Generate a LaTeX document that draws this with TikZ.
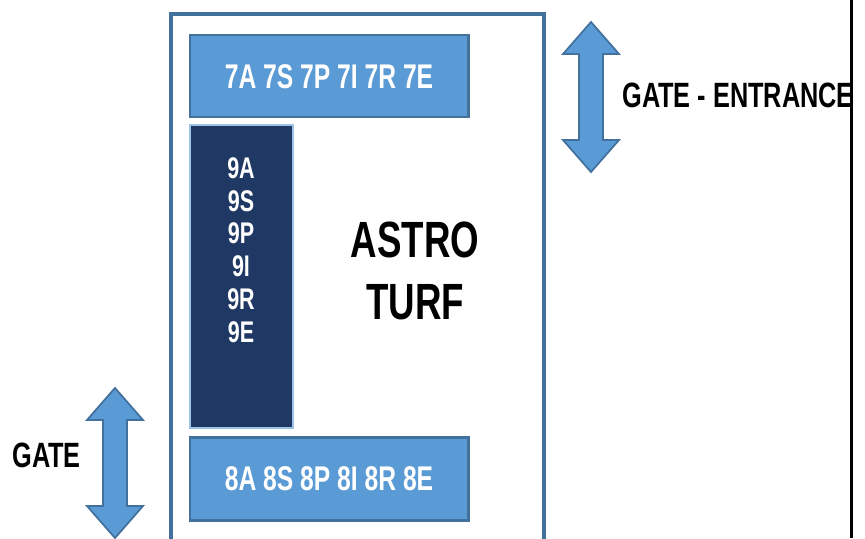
\documentclass[tikz,border=0pt]{standalone}
\usepackage{fontspec}
\setmainfont{Liberation Sans}[FakeStretch=0.72]
\definecolor{turfblue}{HTML}{5B9BD5}
\definecolor{turfedge}{HTML}{41719C}
\definecolor{turfnavy}{HTML}{203864}

\begin{document}
\begin{tikzpicture}[x=0.02cm, y=-0.02cm]
    \tikzstyle{bluebox} = [fill=turfblue, draw=turfedge, line width=1.7pt]
    \tikzstyle{navybox} = [fill=turfnavy, draw=turfblue!60, line width=0.8pt]
    \tikzstyle{boxtext} = [text=white, font=\bfseries\fontsize{19.5}{22}\selectfont, inner sep=0pt]
    \tikzstyle{gatetext} = [text=black, font=\bfseries\fontsize{20}{22}\selectfont, inner sep=0pt]
    \tikzstyle{gatearrow} = [fill=turfblue, draw=turfedge, line width=1pt, line join=miter]
    \useasboundingbox (0, 0) rectangle (865, 538);
    \clip (0, 0) rectangle (865, 538);
    % field frame, running past the bottom edge
    \draw[draw=turfedge, line width=1.8pt] (171, 14) rectangle (544, 570);
    % rows
    \draw[bluebox] (190, 35) rectangle (468, 117);
    \node[boxtext] (row7) at (329, 77) {7A 7S 7P 7I 7R 7E};
    \draw[navybox] (190, 125) rectangle (293, 428);
    \node[boxtext, align=center, font=\bfseries\fontsize{17}{18.7}\selectfont] (row9) at (241, 250)
        {9A\\9S\\9P\\9I\\9R\\9E};
    \draw[bluebox] (190, 437) rectangle (468, 520);
    \node[boxtext] (row8) at (329, 479) {8A 8S 8P 8I 8R 8E};
    \node[gatetext, align=center, font=\bfseries\fontsize{29}{35}\selectfont] (turf) at (415, 271)
        {ASTRO\\TURF};
    % gates
    \foreach \cx/\cy in {591/97, 115/463} {
        \draw[gatearrow] (\cx, \cy - 75) -- (\cx + 28, \cy - 43) -- (\cx + 12, \cy - 43)
            -- (\cx + 12, \cy + 43) -- (\cx + 28, \cy + 43) -- (\cx, \cy + 75)
            -- (\cx - 28, \cy + 43) -- (\cx - 12, \cy + 43) -- (\cx - 12, \cy - 43)
            -- (\cx - 28, \cy - 43) -- cycle;
    }
    \node[gatetext, anchor=west] (entrance) at (622, 95) {GATE - ENTRANCE};
    \node[gatetext, anchor=west] (gate) at (12, 455) {GATE};
    \fill[white] (851, 0) rectangle (865, 538);
    \draw[black, line width=1.7pt] (851, 0) -- (851, 538);
\end{tikzpicture}
\end{document}
